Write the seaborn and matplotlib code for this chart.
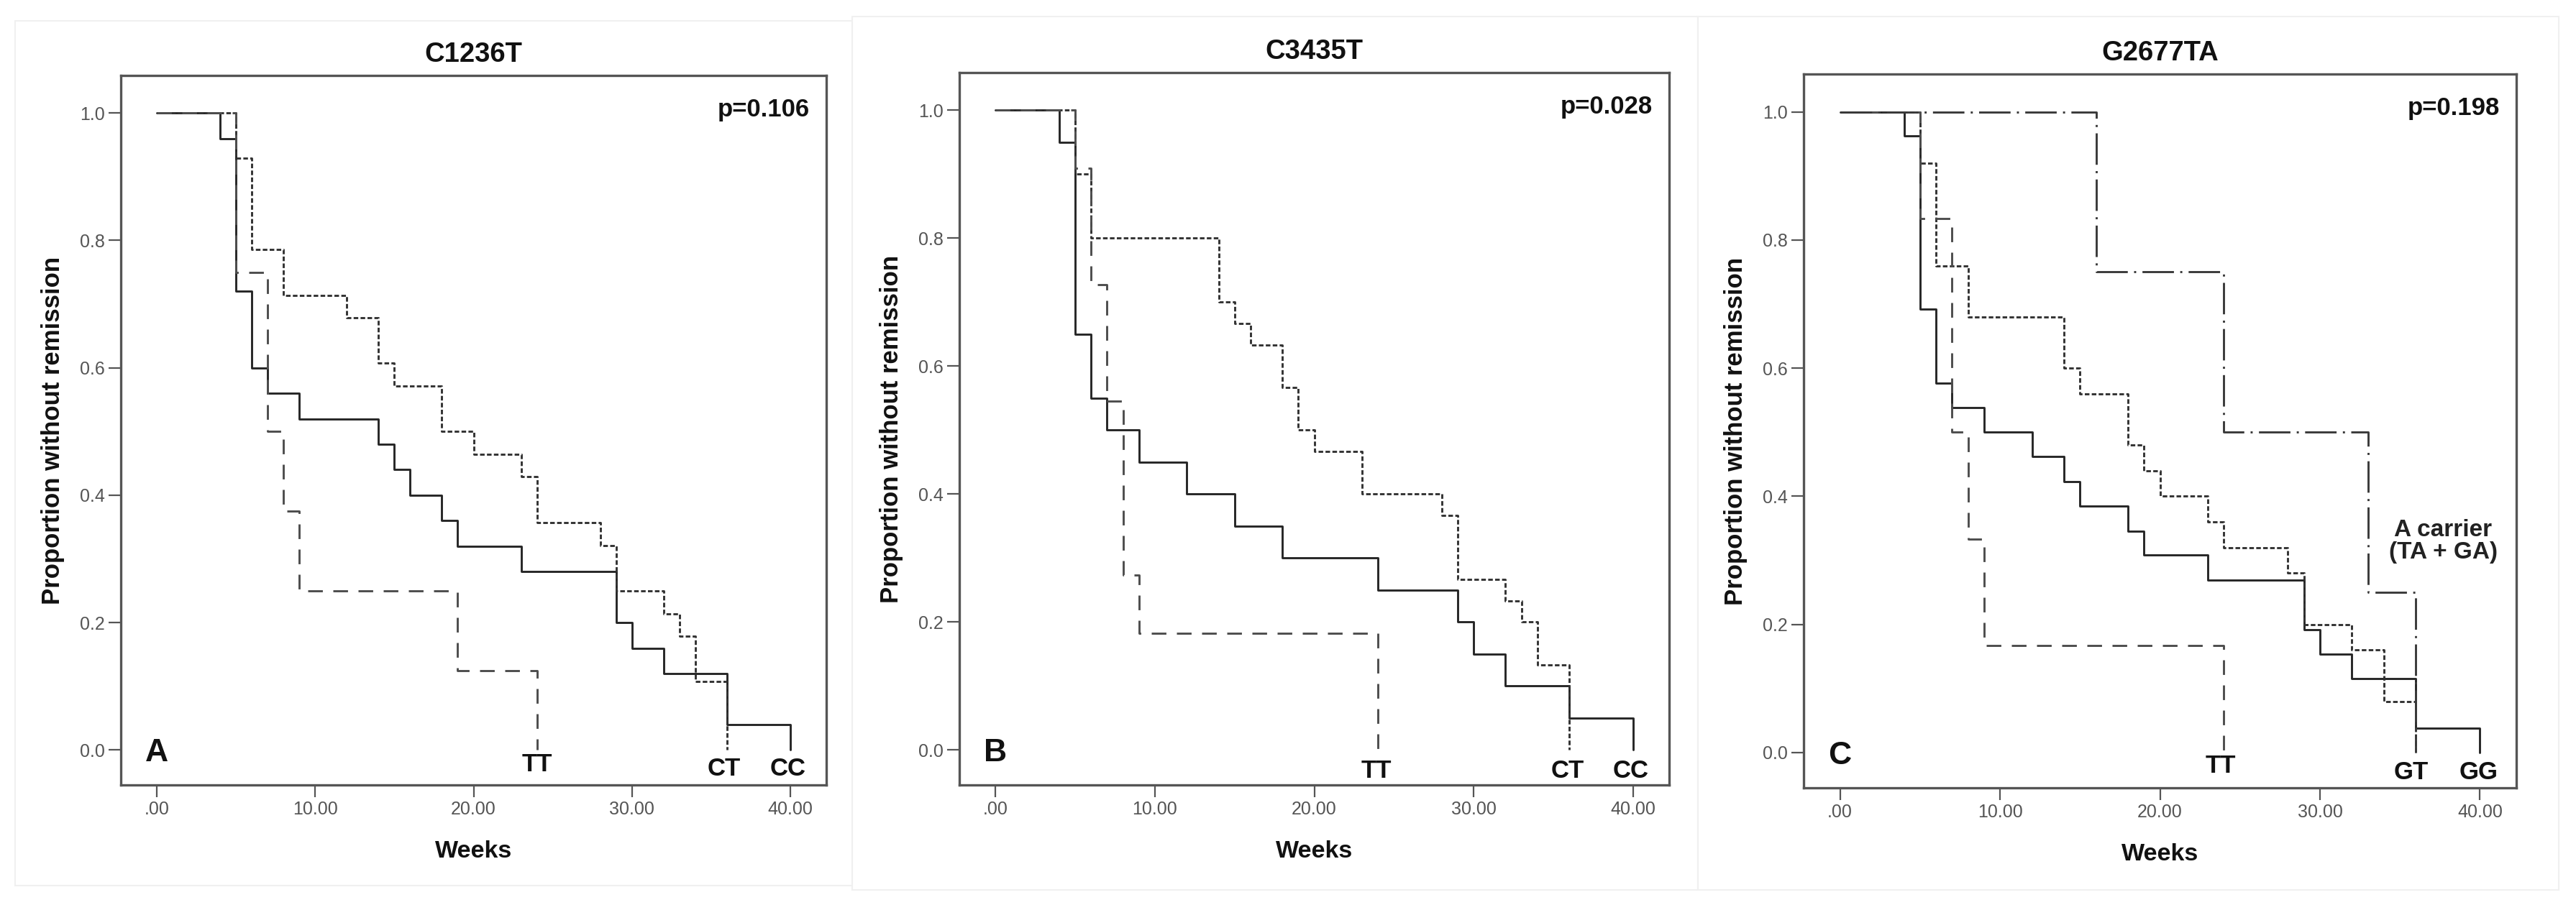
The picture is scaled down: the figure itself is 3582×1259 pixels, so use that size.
import numpy as np
import pandas as pd
import seaborn as sns
import matplotlib.pyplot as plt
from matplotlib.patches import Rectangle

# ---- data (weeks, proportion without remission) ----
A_CC_weeks = [0, 4, 5, 6, 7, 9, 14, 15, 16, 18, 19, 23, 29, 30, 32, 36, 40]
A_CC_surv = [1.0, .96, .72, .60, .56, .52, .48, .44, .40, .36, .32, .28, .20, .16, .12, .04, 0.0]
A_CT_weeks = [0, 5, 6, 8, 12, 14, 15, 18, 20, 23, 24, 28, 29, 32, 33, 34, 36]
A_CT_surv = [1.0, .929, .786, .714, .679, .607, .571, .50, .464, .429, .357, .321, .25, .214, .179, .107, 0.0]
A_TT_weeks = [0, 5, 7, 8, 9, 19, 24]
A_TT_surv = [1.0, .75, .50, .375, .25, .125, 0.0]

B_CC_weeks = [0, 4, 5, 6, 7, 9, 12, 15, 18, 24, 29, 30, 32, 36, 40]
B_CC_surv = [1.0, .95, .65, .55, .50, .45, .40, .35, .30, .25, .20, .15, .10, .05, 0.0]
B_CT_weeks = [0, 5, 6, 14, 15, 16, 18, 19, 20, 23, 28, 29, 32, 33, 34, 36]
B_CT_surv = [1.0, .90, .80, .70, .667, .633, .567, .50, .467, .40, .367, .267, .233, .20, .133, 0.0]
B_TT_weeks = [0, 5, 6, 7, 8, 9, 24]
B_TT_surv = [1.0, .909, .727, .545, .273, .182, 0.0]

C_GG_weeks = [0, 4, 5, 6, 7, 9, 12, 14, 15, 18, 19, 23, 29, 30, 32, 36, 40]
C_GG_surv = [1.0, .962, .692, .577, .538, .50, .462, .423, .385, .346, .308, .269, .192, .154, .115, .038, 0.0]
C_GT_weeks = [0, 5, 6, 8, 14, 15, 18, 19, 20, 23, 24, 28, 29, 32, 34, 36]
C_GT_surv = [1.0, .92, .76, .68, .60, .56, .48, .44, .40, .36, .32, .28, .20, .16, .08, 0.0]
C_TT_weeks = [0, 5, 7, 8, 9, 24]
C_TT_surv = [1.0, .833, .50, .333, .167, 0.0]
C_A_weeks = [0, 16, 24, 33, 36]
C_A_surv = [1.0, .75, .50, .25, 0.0]

titles = ["C1236T", "C3435T", "G2677TA"]
p_values = ["p=0.106", "p=0.028", "p=0.198"]
panel_letters = ["A", "B", "C"]
x_ticks = [0, 10, 20, 30, 40]
x_ticklabels = [".00", "10.00", "20.00", "30.00", "40.00"]
y_ticks = [0.0, 0.2, 0.4, 0.6, 0.8, 1.0]
y_ticklabels = ["0.0", "0.2", "0.4", "0.6", "0.8", "1.0"]


def make_df(curves):
    frames = []
    for name, w, s in curves:
        frames.append(pd.DataFrame({"week": w, "surv": s, "genotype": name}))
    return pd.concat(frames, ignore_index=True)


panels = [
    make_df([("CC", A_CC_weeks, A_CC_surv), ("CT", A_CT_weeks, A_CT_surv), ("TT", A_TT_weeks, A_TT_surv)]),
    make_df([("CC", B_CC_weeks, B_CC_surv), ("CT", B_CT_weeks, B_CT_surv), ("TT", B_TT_weeks, B_TT_surv)]),
    make_df([("GG", C_GG_weeks, C_GG_surv), ("GT", C_GT_weeks, C_GT_surv),
             ("TT", C_TT_weeks, C_TT_surv), ("A", C_A_weeks, C_A_surv)]),
]

# end-of-curve labels: (text, x, y baseline)
end_labels = [
    [("TT", 24, -0.034), ("CT", 35.8, -0.040), ("CC", 39.85, -0.040)],
    [("TT", 23.9, -0.044), ("CT", 35.9, -0.044), ("CC", 39.85, -0.044)],
    [("TT", 23.8, -0.032), ("GT", 35.7, -0.041), ("GG", 39.9, -0.041)],
]

dash_map = {"CC": "", "GG": "", "CT": (2.2, 1.1), "GT": (2.2, 1.1),
            "TT": (7, 5), "A": (15, 3, 1, 3)}
color_map = {"CC": "#262626", "GG": "#262626", "CT": "#333333", "GT": "#333333",
             "TT": "#4d4d4d", "A": "#3a3a3a"}

sns.set_style("ticks")
plt.rcParams["font.family"] = ["Liberation Sans", "DejaVu Sans"]

W, H = 3582, 1259
fig = plt.figure(figsize=(W / 100, H / 100), dpi=100)
fig.patch.set_facecolor("white")

# axes boxes in pixels: left, right, top, bottom
boxes = [(168, 1149, 105, 1092), (1334, 2321, 101, 1092), (2508, 3499, 103, 1096)]

# faint borders of the three original picture panels
for (x0, y0, x1, y1) in [(21, 29, 1185, 1232), (1185, 23, 2361, 1238), (2361, 23, 3558, 1238)]:
    fig.add_artist(Rectangle((x0 / W, 1 - y1 / H), (x1 - x0) / W, (y1 - y0) / H,
                             transform=fig.transFigure, fill=False,
                             ec="#f0f0f0", lw=1.5))

for i, df in enumerate(panels):
    l, r, t, b = boxes[i]
    ax = fig.add_axes([l / W, 1 - b / H, (r - l) / W, (b - t) / H])
    names = list(df["genotype"].unique())
    sns.lineplot(data=df, x="week", y="surv", hue="genotype", style="genotype",
                 hue_order=names, style_order=names,
                 palette={k: color_map[k] for k in names},
                 dashes={k: dash_map[k] for k in names},
                 drawstyle="steps-post", estimator=None, sort=False,
                 linewidth=2.1, legend=False, ax=ax)

    ax.set_xlim(-2.27, 42.27)
    ax.set_ylim(-0.055, 1.059)
    ax.set_xticks(x_ticks)
    ax.set_xticklabels(x_ticklabels)
    ax.set_yticks(y_ticks)
    ax.set_yticklabels(y_ticklabels)
    ax.tick_params(direction="out", length=12, width=1.6, color="#555555",
                   labelcolor="#555555", labelsize=18, pad=4)
    for sp in ax.spines.values():
        sp.set_visible(True)
        sp.set_color("#555555")
        sp.set_linewidth(2.4)

    ax.set_xlabel("Weeks", fontsize=24.5, fontweight="bold", color="#111111")
    ax.xaxis.set_label_coords(0.5, -101 / (b - t))
    ax.xaxis.label.set_va("baseline")
    ax.set_ylabel("Proportion without remission", fontsize=25, fontweight="bold",
                  color="#111111")
    ax.yaxis.set_label_coords(-94 / (r - l), 0.5)
    ax.yaxis.label.set_va("center")

    ax.text(0.5, 1 + 19.5 / (b - t), titles[i], transform=ax.transAxes,
            ha="center", va="baseline", fontsize=27.5, fontweight="bold", color="#111111")
    ax.text(0.9766, 0.995, p_values[i], transform=ax.get_yaxis_transform(),
            ha="right", va="baseline", fontsize=25, fontweight="bold", color="#111111")
    ax.text(0.0, -0.018, panel_letters[i], ha="center", va="baseline",
            fontsize=32, fontweight="bold", color="#111111")
    for txt, x, y in end_labels[i]:
        ax.text(x, y, txt, ha="center", va="baseline", fontsize=25,
                fontweight="bold", color="#111111")
    if i == 2:
        ax.text(37.7, 0.33, "A carrier\n(TA + GA)", ha="center", va="center",
                multialignment="center", linespacing=1.0, fontsize=24,
                fontweight="bold", color="#222222")

fig.savefig("out.png", dpi=100, facecolor="white")
